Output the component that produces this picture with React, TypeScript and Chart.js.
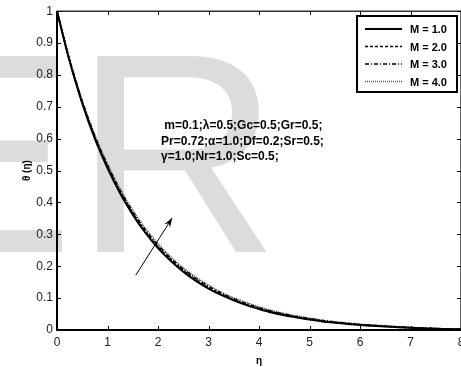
import React, { useEffect, useRef } from "react";
import { Chart, registerables } from "chart.js";

Chart.register(...registerables);

const ETA = [0, 0.25, 0.5, 0.75, 1, 1.25, 1.5, 1.75, 2, 2.25, 2.5, 2.75, 3, 3.25, 3.5, 3.75, 4, 4.25, 4.5, 4.75, 5, 5.25, 5.5, 5.75, 6, 6.25, 6.5, 6.75, 7, 7.25, 7.5, 7.75, 8];
const M1 = [1.0, 0.843, 0.711, 0.6, 0.508, 0.429, 0.362, 0.305, 0.257, 0.217, 0.183, 0.154, 0.13, 0.11, 0.093, 0.078, 0.066, 0.055, 0.046, 0.039, 0.033, 0.027, 0.023, 0.019, 0.016, 0.013, 0.011, 0.009, 0.007, 0.005, 0.004, 0.003, 0.002];
const M2 = [1.0, 0.845, 0.714, 0.604, 0.512, 0.433, 0.366, 0.309, 0.261, 0.221, 0.187, 0.158, 0.133, 0.113, 0.095, 0.08, 0.068, 0.057, 0.048, 0.04, 0.034, 0.028, 0.024, 0.02, 0.016, 0.014, 0.011, 0.009, 0.007, 0.006, 0.004, 0.003, 0.002];
const M3 = [1.0, 0.847, 0.717, 0.608, 0.517, 0.438, 0.371, 0.314, 0.266, 0.225, 0.191, 0.162, 0.137, 0.116, 0.098, 0.083, 0.07, 0.059, 0.05, 0.042, 0.036, 0.03, 0.025, 0.021, 0.017, 0.015, 0.012, 0.01, 0.008, 0.006, 0.005, 0.003, 0.002];
const M4 = [1.0, 0.849, 0.72, 0.612, 0.521, 0.443, 0.376, 0.319, 0.271, 0.23, 0.195, 0.166, 0.141, 0.119, 0.101, 0.086, 0.073, 0.061, 0.052, 0.044, 0.037, 0.031, 0.026, 0.022, 0.018, 0.015, 0.013, 0.01, 0.008, 0.006, 0.005, 0.003, 0.002];
const SERIES_LABELS = ["M = 1.0", "M = 2.0", "M = 3.0", "M = 4.0"];
const X_TICKS = [0, 1, 2, 3, 4, 5, 6, 7, 8];
const Y_TICKS = [0, 0.1, 0.2, 0.3, 0.4, 0.5, 0.6, 0.7, 0.8, 0.9, 1];
const NOTE_LINES = [
  " m=0.1;λ=0.5;Gc=0.5;Gr=0.5;",
  "Pr=0.72;α=1.0;Df=0.2;Sr=0.5;",
  "γ=1.0;Nr=1.0;Sc=0.5;",
];
const NOTE_POS = { x: 2.06, y: 0.64 };
const ARROW_FROM = { x: 1.56, y: 0.172 };
const ARROW_TO = { x: 2.28, y: 0.351 };

const FONT = '"Liberation Sans", Arial, sans-serif';

const toPts = (ys: number[]) => ETA.map((x, i) => ({ x, y: ys[i] }));

export default function App() {
  const ref = useRef<HTMLCanvasElement | null>(null);

  useEffect(() => {
    if (!ref.current) return;

    const watermark = {
      id: "watermark",
      beforeDraw(chart: any) {
        const ctx = chart.ctx;
        ctx.save();
        ctx.fillStyle = "#dcdcdc";
        ctx.font = `285px ${FONT}`;
        ctx.textBaseline = "alphabetic";
        ctx.fillText("E", -116, 252);
        ctx.fillText("R", 74, 252);
        ctx.restore();
      },
    };

    const frame = {
      id: "frame",
      afterDraw(chart: any) {
        const ctx = chart.ctx;
        const a = chart.chartArea;
        const xs = chart.scales.x;
        const ys = chart.scales.y;
        ctx.save();
        ctx.strokeStyle = "#000";
        ctx.lineWidth = 1;
        ctx.beginPath();
        X_TICKS.forEach((v) => {
          const p = Math.round(xs.getPixelForValue(v)) + 0.5;
          ctx.moveTo(p, a.bottom);
          ctx.lineTo(p, a.bottom - 4);
          ctx.moveTo(p, a.top);
          ctx.lineTo(p, a.top + 4);
        });
        Y_TICKS.forEach((v) => {
          const p = Math.round(ys.getPixelForValue(v)) + 0.5;
          ctx.moveTo(a.left, p);
          ctx.lineTo(a.left + 4, p);
          ctx.moveTo(a.right, p);
          ctx.lineTo(a.right - 4, p);
        });
        ctx.stroke();
        ctx.lineWidth = 1.2;
        ctx.strokeRect(a.left, a.top, a.right - a.left, a.bottom - a.top);
        ctx.lineWidth = 2;
        ctx.beginPath();
        ctx.moveTo(a.left, a.top);
        ctx.lineTo(a.left, a.bottom);
        ctx.lineTo(a.right, a.bottom);
        ctx.stroke();

        // annotation text
        ctx.fillStyle = "#000";
        ctx.font = `bold 12px ${FONT}`;
        ctx.textAlign = "left";
        ctx.textBaseline = "middle";
        const tx = xs.getPixelForValue(NOTE_POS.x);
        const ty = ys.getPixelForValue(NOTE_POS.y);
        NOTE_LINES.forEach((l, i) => ctx.fillText(l, tx, ty + i * 15.5));

        // arrow
        const x0 = xs.getPixelForValue(ARROW_FROM.x);
        const y0 = ys.getPixelForValue(ARROW_FROM.y);
        const x1 = xs.getPixelForValue(ARROW_TO.x);
        const y1 = ys.getPixelForValue(ARROW_TO.y);
        ctx.lineWidth = 1;
        ctx.beginPath();
        ctx.moveTo(x0, y0);
        ctx.lineTo(x1, y1);
        ctx.stroke();
        const ang = Math.atan2(y1 - y0, x1 - x0);
        const hl = 10;
        ctx.beginPath();
        ctx.moveTo(x1, y1);
        ctx.lineTo(x1 - hl * Math.cos(ang - 0.35), y1 - hl * Math.sin(ang - 0.35));
        ctx.lineTo(x1 - hl * 0.6 * Math.cos(ang), y1 - hl * 0.6 * Math.sin(ang));
        ctx.lineTo(x1 - hl * Math.cos(ang + 0.35), y1 - hl * Math.sin(ang + 0.35));
        ctx.closePath();
        ctx.fill();

        // legend box
        const lx = 357;
        const ly = 16;
        const lw = 100;
        const lh = 76;
        ctx.fillStyle = "#fff";
        ctx.fillRect(lx, ly, lw, lh);
        ctx.lineWidth = 2;
        ctx.strokeRect(lx, ly, lw, lh);
        chart.data.datasets.forEach((ds: any, i: number) => {
          const ry = ly + 13 + i * 17.5;
          ctx.save();
          ctx.strokeStyle = ds.borderColor;
          ctx.lineWidth = ds.borderWidth;
          ctx.setLineDash(ds.borderDash || []);
          ctx.beginPath();
          ctx.moveTo(lx + 8, ry);
          ctx.lineTo(lx + 45, ry);
          ctx.stroke();
          ctx.restore();
          ctx.fillStyle = "#000";
          ctx.font = `bold 11px ${FONT}`;
          ctx.textBaseline = "middle";
          ctx.fillText(ds.label, lx + 53, ry + 1);
        });
        ctx.restore();
      },
    };

    const chart = new Chart(ref.current, {
      type: "line",
      data: {
        datasets: [
          { label: SERIES_LABELS[0], data: toPts(M1), borderColor: "#000", borderWidth: 2, borderDash: [] },
          { label: SERIES_LABELS[1], data: toPts(M2), borderColor: "#000", borderWidth: 1.6, borderDash: [3, 2] },
          { label: SERIES_LABELS[2], data: toPts(M3), borderColor: "#000", borderWidth: 1.6, borderDash: [4, 2, 1, 2] },
          { label: SERIES_LABELS[3], data: toPts(M4), borderColor: "#555", borderWidth: 1.6, borderDash: [1, 1] },
        ] as any,
      },
      options: {
        animation: false,
        responsive: false,
        parsing: false as any,
        elements: { point: { radius: 0 }, line: { tension: 0.3, fill: false } },
        layout: { padding: { top: 11, right: 9, left: 0, bottom: 0 } },
        plugins: { legend: { display: false }, tooltip: { enabled: false } },
        scales: {
          x: {
            type: "linear",
            min: 0,
            max: 8,
            grid: { display: false, drawTicks: false },
            border: { display: false },
            afterBuildTicks: (s: any) => {
              s.ticks = X_TICKS.map((v) => ({ value: v }));
            },
            afterFit: (s: any) => {
              s.height = 37;
            },
            ticks: { color: "#222", font: { family: FONT, size: 12 }, padding: 5, maxRotation: 0 },
            title: { display: true, text: "η", color: "#000", font: { family: FONT, size: 10, weight: "bold" }, padding: { top: 3, bottom: 0 } },
          },
          y: {
            type: "linear",
            min: 0,
            max: 1,
            grid: { display: false, drawTicks: false },
            border: { display: false },
            afterBuildTicks: (s: any) => {
              s.ticks = Y_TICKS.map((v) => ({ value: v }));
            },
            afterFit: (s: any) => {
              s.width = 57;
            },
            ticks: { color: "#222", font: { family: FONT, size: 12 }, padding: 4, callback: (v: any) => String(Math.round(Number(v) * 10) / 10) },
            title: { display: true, text: "θ (η)", color: "#000", font: { family: FONT, size: 10, weight: "bold" }, padding: { top: 21, bottom: 0 } },
          },
        },
      },
      plugins: [watermark, frame],
    } as any);

    return () => chart.destroy();
  }, []);

  return (
    <div style={{ position: "fixed", left: 0, top: 0, width: 461, height: 367, overflow: "hidden", background: "#fff" }}>
      <canvas ref={ref} width={470} height={367} style={{ width: 470, height: 367, display: "block" }} />
    </div>
  );
}
